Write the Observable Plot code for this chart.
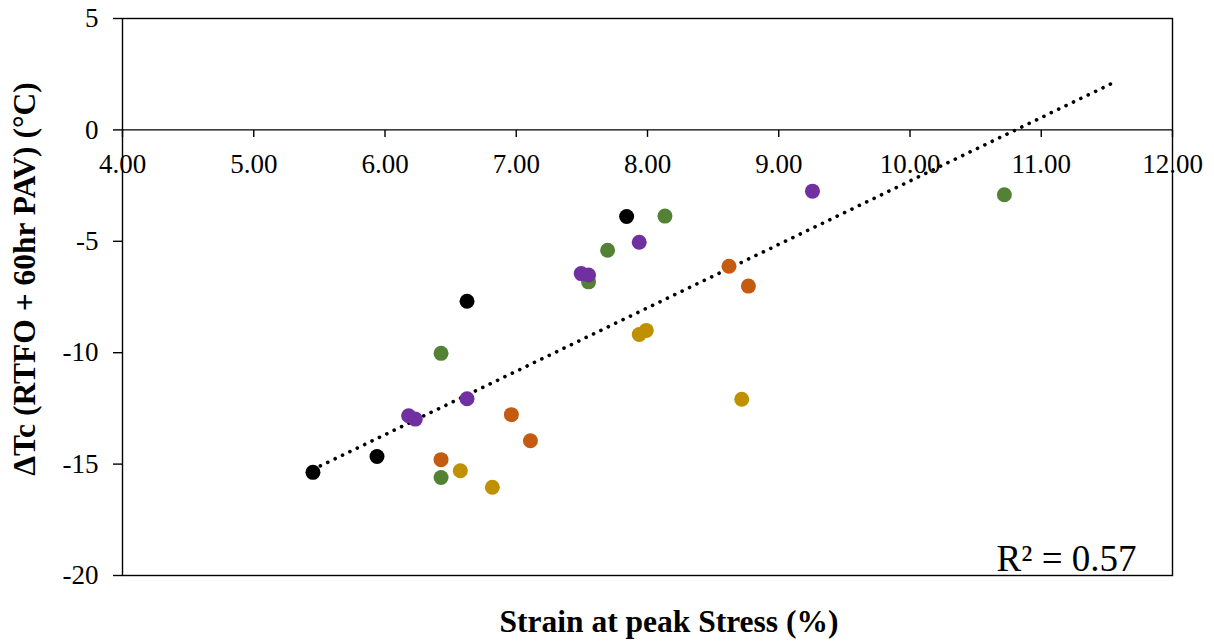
<!DOCTYPE html>
<html>
<head>
<meta charset="utf-8">
<script src="https://cdn.jsdelivr.net/npm/d3@7"></script>
<script src="https://cdn.jsdelivr.net/npm/@observablehq/plot@0.6"></script>
<style>
  html, body { margin: 0; padding: 0; background: #fff; }
  #chart { width: 1214px; height: 642px; }
</style>
</head>
<body>
<div id="chart"></div>
<script>
// ---- data ----
const groups = ["Series 1", "Series 2", "Series 3", "Series 4", "Series 5"];
const groupColors = ["#000000", "#548235", "#7030A0", "#C55A11", "#BF9000"];

const s1X = [5.451, 5.939, 6.625, 7.841];
const s1Y = [-15.37, -14.66, -7.69, -3.89];
const s2X = [6.427, 6.427, 7.551, 7.696, 8.133, 10.719];
const s2Y = [-10.03, -15.60, -6.82, -5.40, -3.87, -2.91];
const s3X = [6.180, 6.231, 6.625, 7.495, 7.551, 7.937, 9.257];
const s3Y = [-12.83, -12.98, -12.07, -6.45, -6.51, -5.04, -2.75];
const s4X = [6.427, 6.963, 7.108, 8.621, 8.769];
const s4Y = [-14.80, -12.78, -13.95, -6.12, -7.01];
const s5X = [6.574, 6.818, 7.937, 7.991, 8.718];
const s5Y = [-15.30, -16.04, -9.18, -9.00, -12.09];

const xTicks = [4, 5, 6, 7, 8, 9, 10, 11, 12];
const yTicks = [-20, -15, -10, -5, 0, 5];
const trendForward = 0.81;   // Excel forecast forward
const r2Label = "R² = 0.57";
const xTitle = "Strain at peak Stress (%)";
const yTitle = "ΔTc (RTFO + 60hr PAV) (°C)";

// ---- build table ----
const seriesX = [s1X, s2X, s3X, s4X, s5X];
const seriesY = [s1Y, s2Y, s3Y, s4Y, s5Y];
const points = [];
groups.forEach((g, i) => seriesX[i].forEach((x, j) => points.push({group: g, x, y: seriesY[i][j]})));

// linear regression trendline
const mx = d3.mean(points, d => d.x), my = d3.mean(points, d => d.y);
const slope = d3.sum(points, d => (d.x - mx) * (d.y - my)) / d3.sum(points, d => (d.x - mx) ** 2);
const icpt = my - slope * mx;
const tx0 = d3.min(points, d => d.x), tx1 = d3.max(points, d => d.x) + trendForward;
const trend = [{x: tx0, y: icpt + slope * tx0}, {x: tx1, y: icpt + slope * tx1}];

const tickSymbol = {draw(ctx) { ctx.moveTo(0, 0); ctx.lineTo(0, 7); }};

const chart = Plot.plot({
  width: 1214,
  height: 642,
  marginLeft: 122,
  marginRight: 42,
  marginTop: 18,
  marginBottom: 67,
  style: {fontFamily: "'Liberation Serif', 'Times New Roman', serif", fontSize: "27px", background: "#fff", color: "#000"},
  x: {domain: [4, 12], axis: null},
  y: {domain: [-20, 5], axis: null},
  color: {type: "ordinal", domain: groups, range: groupColors},
  marks: [
    Plot.frame({stroke: "#000", strokeWidth: 1.4}),
    Plot.axisY(yTicks, {anchor: "left", tickSize: 9, tickPadding: 15, tickFormat: d => String(d), label: null, fontSize: 27, strokeWidth: 1.4}),
    Plot.ruleY([0], {stroke: "#000", strokeWidth: 1.4}),
    Plot.dot(xTicks, {x: d => d, y: 0, symbol: tickSymbol, stroke: "#000", strokeWidth: 1.4, fill: "none"}),
    Plot.text(xTicks, {x: d => d, y: 0, text: d => d.toFixed(2), dy: 34, fontSize: 27, textAnchor: "middle", lineAnchor: "middle"}),
    Plot.line(trend, {x: "x", y: "y", stroke: "#000", strokeWidth: 3.6, strokeDasharray: "0.1 8.1", strokeLinecap: "round"}),
    Plot.dot(points, {x: "x", y: "y", fill: "group", r: 7.5}),
    Plot.text([r2Label], {frameAnchor: "bottom-right", text: d => d, dx: -36, dy: -16.1, fontSize: 37, textAnchor: "end", lineAnchor: "middle"}),
    Plot.text([xTitle], {frameAnchor: "bottom", text: d => d, dx: 21.5, dy: 46.9, fontSize: 31.5, fontWeight: "bold", textAnchor: "middle", lineAnchor: "middle"}),
    Plot.text([yTitle], {frameAnchor: "left", text: d => d, rotate: -90, dx: -97.1, dy: -18, fontSize: 31.5, fontWeight: "bold", textAnchor: "middle", lineAnchor: "middle"})
  ]
});
document.getElementById("chart").appendChild(chart);
</script>
</body>
</html>
